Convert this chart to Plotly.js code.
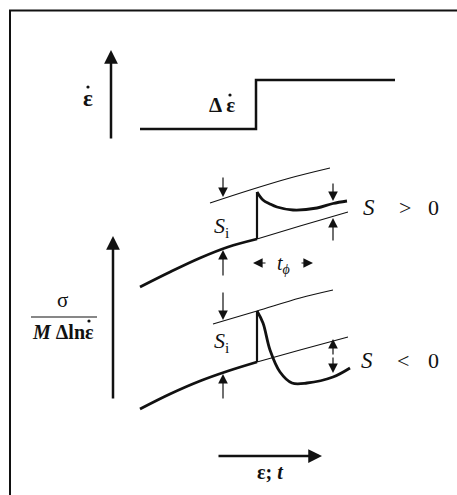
<!DOCTYPE html>
<html>
<head>
<meta charset="utf-8">
<script src="https://cdn.plot.ly/plotly-3.0.1.min.js"></script>
<style>
  html, body { margin: 0; padding: 0; background: #fff; }
  #chart { width: 457px; height: 495px; }
</style>
</head>
<body>
<div id="chart"></div>
<script>
// Schematic of a strain-rate jump test: the imposed strain-rate step (top)
// and the stress response for positive and negative rate sensitivity S.
// Diagram units: x to the right, y downward (the y axis is reversed).

// Strain-rate step
const rateX = [140, 256, 256, 395];
const rateY = [129, 129, 80, 80];

// S > 0 panel
const posBaseX = [140, 170, 200, 228, 257];
const posBaseY = [287, 272, 258, 247, 239];
const posJumpX = [257, 257];
const posJumpY = [239, 192];
const posDecayX = [257, 263, 270, 277, 293, 317, 333, 347];
const posDecayY = [192, 200, 204, 207, 210, 208, 203.5, 201];
const posUpperX = [210, 250, 290, 330];
const posUpperY = [203, 190, 178, 168];
const posLowerX = [257, 300, 348];
const posLowerY = [239, 226, 212];

// S < 0 panel
const negBaseX = [140, 170, 200, 228, 257];
const negBaseY = [409, 394, 381, 371, 362];
const negJumpX = [257, 257];
const negJumpY = [362, 311];
const negDropX = [257, 263, 270, 280, 292, 307, 333, 350];
const negDropY = [311, 323, 350, 372, 383, 383, 377, 368];
const negUpperX = [213, 257, 300, 333];
const negUpperY = [324, 311, 298, 290];
const negLowerX = [257, 300, 348];
const negLowerY = [362, 350, 337];

// Arrows: [tailX, tailY, headX, headY]
const axisArrows = [
  [111, 140, 111, 50],   // strain-rate axis
  [113, 400, 113, 236],  // stress axis
  [217, 456, 322, 456]   // strain / time axis
];
const markerArrows = [
  [223, 176, 223, 197],
  [223, 277, 223, 250],
  [333, 182, 333, 201],
  [333, 242, 333, 218],
  [223, 291, 223, 320],
  [223, 400, 223, 374],
  [333, 356, 333, 339],
  [333, 356, 333, 373],
  [267, 263, 253, 263],
  [300, 263, 313, 263]
];

// Labels: [text, x, y, size, bold]
const labels = [
  ['ε', 88, 98, 23, true],
  ['Δ\u2009ε', 222, 105, 21, true],
  ['<i>S</i><sub>i</sub>', 221, 227, 22, false],
  ['<i>S</i><sub>i</sub>', 221, 342, 22, false],
  ['<i>S</i>', 369, 207, 23, false],
  ['>', 405, 207, 22, false],
  ['0', 433, 207, 22, false],
  ['<i>S</i>', 367, 360, 23, false],
  ['<', 403, 360, 22, false],
  ['0', 433, 360, 22, false],
  ['<i>t</i><sub><i>ϕ</i></sub>', 283, 264, 20, false],
  ['σ', 62, 300, 21, false],
  ['<i>M</i> Δlnε', 63, 332, 20, true],
  ['ε; <i>t</i>', 270, 472, 20, true]
];
// Rate dots over ε: [x, y]
const rateDotX = [88, 230, 89];
const rateDotY = [87, 95, 321];
const fractionBarX = [31, 97];
const fractionBarY = [317, 317];

const ink = '#111';
function line(x, y, w, shape) {
  return { x: x, y: y, type: 'scatter', mode: 'lines', hoverinfo: 'skip',
           line: { color: ink, width: w, shape: shape || 'linear', smoothing: 1 } };
}

const traces = [
  line(rateX, rateY, 2.5),
  line(posBaseX, posBaseY, 2.8, 'spline'),
  line(posJumpX, posJumpY, 2.2),
  line(posDecayX, posDecayY, 2.8, 'spline'),
  line(posUpperX, posUpperY, 1.1, 'spline'),
  line(posLowerX, posLowerY, 1.1, 'spline'),
  line(negBaseX, negBaseY, 2.8, 'spline'),
  line(negJumpX, negJumpY, 2.2),
  line(negDropX, negDropY, 2.8, 'spline'),
  line(negUpperX, negUpperY, 1.1, 'spline'),
  line(negLowerX, negLowerY, 1.1, 'spline'),
  line(fractionBarX, fractionBarY, 1.2),
  { x: rateDotX, y: rateDotY, type: 'scatter', mode: 'markers', hoverinfo: 'skip',
    marker: { color: ink, size: 3.2, line: { width: 0 } } }
];

const annotations = [];
function arrow(a, width, size) {
  annotations.push({
    x: a[2], y: a[3], ax: a[0], ay: a[1], xref: 'x', yref: 'y', axref: 'x', ayref: 'y',
    text: '', showarrow: true, arrowhead: 2, arrowsize: size, arrowwidth: width,
    arrowcolor: ink, standoff: 0, startstandoff: 0
  });
}
axisArrows.forEach(a => arrow(a, 2.5, 1.1));
markerArrows.forEach(a => arrow(a, 1.2, 1.6));
labels.forEach(l => annotations.push({
  x: l[1], y: l[2], xref: 'x', yref: 'y', text: l[4] ? '<b>' + l[0] + '</b>' : l[0],
  showarrow: false, xanchor: 'center', yanchor: 'middle',
  font: { family: 'Liberation Serif, DejaVu Serif, serif', size: l[3], color: ink }
}));

const layout = {
  width: 457, height: 495,
  margin: { l: 0, r: 0, t: 0, b: 0, pad: 0 },
  paper_bgcolor: '#fff', plot_bgcolor: '#fff',
  showlegend: false,
  xaxis: { range: [0, 457], visible: false, fixedrange: true },
  yaxis: { range: [495, 0], visible: false, fixedrange: true },
  annotations: annotations,
  shapes: [
    { type: 'line', xref: 'paper', yref: 'paper', x0: 9 / 457, x1: 1, y0: 1 - 10.5 / 495, y1: 1 - 10.5 / 495,
      line: { color: ink, width: 2 } },
    { type: 'line', xref: 'paper', yref: 'paper', x0: 10 / 457, x1: 10 / 457, y0: 0, y1: 1 - 10 / 495,
      line: { color: ink, width: 2 } }
  ]
};

Plotly.newPlot('chart', traces, layout, { staticPlot: true, displayModeBar: false });
</script>
</body>
</html>
